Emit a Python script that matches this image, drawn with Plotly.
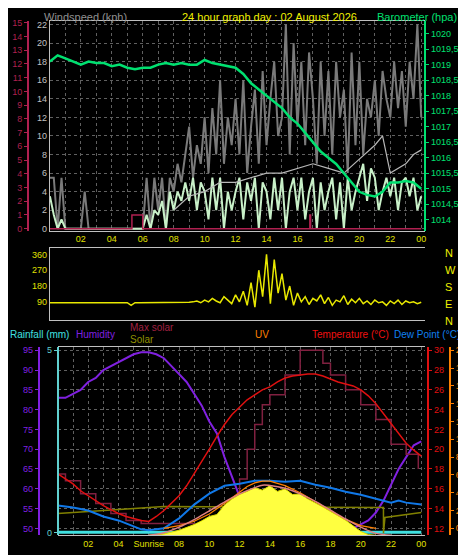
import plotly.graph_objects as go

# ---------------- data ----------------
HOURS_HALF = [i * 0.5 for i in range(49)]
HOURS_Q = [i * 0.25 for i in range(97)]

baro = [1019.1, 1019.3, 1019.2, 1019.1, 1019.0, 1019.1, 1019.05, 1019.05, 1018.95, 1019.0,
        1018.9, 1018.85, 1018.9, 1018.9, 1019.0, 1019.05, 1019.0, 1019.05, 1019.0, 1019.0,
        1019.15, 1019.05, 1019.0, 1018.95, 1018.9, 1018.7, 1018.4, 1018.2, 1018.0, 1017.8,
        1017.6, 1017.3, 1017.1, 1016.8, 1016.5, 1016.2, 1016.0, 1015.8, 1015.5, 1015.2,
        1014.9, 1014.8, 1014.75, 1014.9, 1015.2, 1015.2, 1015.25, 1015.2, 1015.0]

gust = [5.5, 5.5, 0, 5.5, 0, 0, 0, 0, 0, 4, 0, 0, 0, 0, 0, 0, 0, 0, 0, 0, 0, 0, 0, 0,
        0, 5.5, 0, 5.5, 2, 5.5, 0, 5.5, 4, 7, 5, 8, 11, 5.5, 9, 7, 12, 6, 13, 8, 16, 7, 12, 9,
        14, 8, 16, 6, 11, 15, 7, 17, 9, 14, 18, 10, 12, 22, 8, 20, 11, 18, 9, 19, 14, 7, 18, 10,
        17, 8, 18, 12, 15, 6, 19, 9, 18, 8, 14, 12, 16, 10, 17, 14, 12, 18, 13, 17, 11, 18, 14, 22, 12]
avg = [3.5, 1.5, 0, 1, 0, 0, 0, 0, 0, 0, 0, 0, 0, 0, 0, 0, 0, 0, 0, 0, 0, 0, 0, 0,
       0, 1.5, 0, 2, 1.5, 3, 0, 4, 2, 4, 3, 5, 3, 5.5, 2, 5, 4, 1, 5.5, 2, 5.5, 0, 4, 2,
       4, 5.5, 1, 5, 3, 5.5, 0, 5, 4, 1, 5.5, 2, 5.5, 0, 4, 5.5, 2, 5.5, 1, 4, 5.5, 0, 5, 2,
       4, 5.5, 1, 5, 0, 5.5, 2, 4, 5.5, 7, 3, 6.5, 5.5, 2, 4, 5.5, 3.5, 5.5, 2, 5, 5.5, 3.5, 5.5, 2, 3.5]
smooth_t = [8, 9, 10, 11, 12, 13, 14, 15, 16, 17, 18, 19, 20, 21, 21.5, 22, 23, 23.5, 24]
smooth = [2, 3.5, 4, 5, 5, 5.5, 6, 6, 6.5, 7, 6.5, 6, 7.5, 9, 10, 6, 7, 8, 8.5]

rain_t = [0, 5.3, 5.3, 6.0, 6.0, 16.8, 16.8, 16.85, 16.85, 24]
rain = [0, 0, 1, 1, 0, 0, 1, 1, 0, 0]

wdir = [85, 85, 85, 85, 85, 85, 85, 85, 85, 85, 85, 85, 85, 85, 85, 85, 85, 85, 85, 85,
        85, 70, 85, 85, 85, 85, 85, 85, 85, 85, 85, 85, 85, 85, 85, 85, 88, 90, 95, 85,
        100, 90, 110, 95, 85, 120, 100, 80, 130, 90, 150, 70, 200, 60, 270, 120, 360, 80, 330, 140,
        250, 100, 180, 70, 140, 90, 120, 75, 110, 95, 130, 80, 115, 70, 100, 90, 125, 75, 105, 85,
        110, 80, 95, 75, 100, 85, 90, 70, 95, 80, 100, 75, 95, 85, 90, 80, 88]

hum = [83, 83, 84, 85, 87, 88, 90, 91, 92, 93, 94, 94.5, 94.5, 94, 93, 91, 89, 87, 84, 81,
       77, 74, 68, 63, 58, 57, 56, 55, 52, 52, 52, 52, 52, 52, 51, 51, 51, 51, 50.5, 50,
       51, 52, 54, 57, 61, 65, 68, 71, 72]
temp = [17.5, 17, 16.5, 15.8, 15.3, 14.8, 14.3, 13.9, 13.5, 13.2, 13.0, 12.8, 12.7, 13.2, 13.8,
        14.5, 15.3, 16.3, 17.5, 18.8, 20, 21.3, 22.5, 23.5, 24.3, 25, 25.5, 26, 26.3, 26.8, 27.2,
        27.4, 27.5, 27.6, 27.6, 27.4, 27.1, 26.8, 26.6, 26.4, 26, 25.4, 24.6, 23.6, 22.5, 21.5,
        20.6, 19.9, 19.3]
dew_t = [0, 1, 2, 3, 4, 5, 5.5, 6, 7, 8, 9, 10, 11, 12, 13, 14, 15, 16, 17, 18, 19, 20, 21, 22, 22.5, 23, 24]
dew = [14.3, 14.1, 13.8, 13.2, 12.8, 12.2, 11.9, 11.8, 12, 13, 14.4, 15.5, 16.3, 16.5, 16.8, 16.8,
       16.7, 16.8, 16.4, 16.1, 15.7, 15.4, 15.0, 14.6, 14.8, 14.6, 14.4]
maxsol_t = [0, 0.5, 1.5, 2.5, 3.5, 4.5, 5.5, 9, 11.5, 12, 12.5, 13, 13.5, 14, 15, 16, 17, 17.5, 18, 19, 20, 21, 22, 23, 23.8]
maxsol = [17.5, 16.8, 15.5, 14.5, 13.5, 12.8, 12.5, 11.7, 13, 17, 20, 22.5, 24.5, 25.5, 27.5, 30, 30,
          28.7, 27.5, 26, 24.5, 23, 20.5, 19.5, 18]
olive_t = [0, 7, 21.5, 21.5, 21.6, 24]
olive = [13.5, 14.2, 14.1, 11.5, 13.1, 13.6]
bell_t = [6, 7, 8, 9, 10, 11, 12, 13, 13.5, 14, 15, 16, 17, 18, 19, 20, 21, 22]
bell = [0, 40, 130, 250, 390, 530, 660, 760, 800, 795, 750, 660, 540, 400, 260, 130, 30, 0]
sol_t = [6, 7, 8, 9, 9.5, 10, 10.5, 11, 11.5, 12, 12.5, 13, 13.5, 14, 14.5, 15, 15.5, 16, 16.5,
         17, 17.5, 18, 18.5, 19, 19.5, 20, 20.5, 21]
sol = [0, 20, 80, 170, 230, 300, 330, 480, 580, 650, 700, 760, 720, 790, 700, 740, 650, 660, 580,
       520, 450, 380, 310, 240, 150, 60, 10, 0]
uv_t = [7, 8, 9, 10, 11, 12, 12.5, 13, 13.5, 14, 15, 16, 17, 18, 19, 20, 21]
uv = [0, 0.3, 0.8, 1.6, 2.8, 4, 4.7, 5.1, 5.3, 5.3, 4.8, 4, 3, 2, 1, 0.3, 0]

xticks = list(range(0, 25))
xtext = ['' if h % 2 else ('00' if h in (0, 24) else f'{h:02d}') for h in xticks]
xtext[0] = ''
xtext_b = list(xtext)
xtext_b[6] = 'Sunrise'

baro_ticks = [1014 + 0.5 * i for i in range(13)]
baro_text = [(f'{v:.1f}'.replace('.', ',').replace(',0', '')) for v in baro_ticks]

# ---------------- figure ----------------
F = dict(family='Liberation Sans, Arial', size=9)
fig = go.Figure()

fig.add_trace(go.Scatter(x=HOURS_Q, y=gust, mode='lines', line=dict(color='#7a7a7a', width=2), xaxis='x', yaxis='y'))
fig.add_trace(go.Scatter(x=HOURS_Q, y=avg, mode='lines', line=dict(color='#c8f0c8', width=2), xaxis='x', yaxis='y'))
fig.add_trace(go.Scatter(x=smooth_t, y=smooth, mode='lines', line=dict(color='#b8b8b8', width=1.2), xaxis='x', yaxis='y'))
fig.add_trace(go.Scatter(x=rain_t, y=rain, mode='lines', line=dict(color='#b02050', width=1.5), xaxis='x', yaxis='y3'))
fig.add_trace(go.Scatter(x=HOURS_HALF, y=baro, mode='lines', line=dict(color='#00e070', width=2.5), xaxis='x', yaxis='y2'))
fig.add_trace(go.Scatter(x=HOURS_Q, y=wdir, mode='lines', line=dict(color='#e8e800', width=1.5), xaxis='x2', yaxis='y4'))
fig.add_trace(go.Scatter(x=sol_t, y=sol, mode='lines', fill='tozeroy', fillcolor='#ffff40', line=dict(color='#e0e000', width=1), xaxis='x3', yaxis='y9'))
fig.add_trace(go.Scatter(x=bell_t, y=bell, mode='lines', line=dict(color='#e08080', width=1.5, shape='spline'), xaxis='x3', yaxis='y9'))
fig.add_trace(go.Scatter(x=uv_t, y=uv, mode='lines', line=dict(color='#ff8000', width=1.2), xaxis='x3', yaxis='y8'))
fig.add_trace(go.Scatter(x=olive_t, y=olive, mode='lines', line=dict(color='#808000', width=1.5), xaxis='x3', yaxis='y7'))
fig.add_trace(go.Scatter(x=maxsol_t, y=maxsol, mode='lines', line=dict(color='#802040', width=1.5, shape='hv'), xaxis='x3', yaxis='y7'))
fig.add_trace(go.Scatter(x=dew_t, y=dew, mode='lines', line=dict(color='#1078e8', width=2), xaxis='x3', yaxis='y7'))
fig.add_trace(go.Scatter(x=HOURS_HALF, y=hum, mode='lines', line=dict(color='#8020e0', width=2), xaxis='x3', yaxis='y5'))
fig.add_trace(go.Scatter(x=HOURS_HALF, y=temp, mode='lines', line=dict(color='#e01010', width=1.5), xaxis='x3', yaxis='y7'))
fig.add_trace(go.Scatter(x=[0, 24], y=[0, 0], mode='lines', line=dict(color='#40e0e0', width=3), xaxis='x3', yaxis='y6'))

GRID = dict(showgrid=True, gridcolor='#606060', griddash='dot', gridwidth=1)
def xax(domain, anchor, text, show=True, grid=True):
    d = dict(domain=domain, anchor=anchor, range=[0, 24.25], tickvals=xticks, ticktext=text,
             tickfont=dict(F, color='#e0e000'), showticklabels=show, zeroline=False,
             showline=True, linecolor='#c0c0c0', mirror=True, ticks='', ticklen=0)
    if grid:
        d.update(GRID)
    else:
        d['showgrid'] = False
    return d

def yfree(color, pos, rng, tickvals, ticktext=None, side='left', overlaying=None):
    d = dict(anchor='free', position=pos, range=rng, tickvals=tickvals, side=side,
             tickfont=dict(F, color=color), showline=True, linecolor=color, linewidth=2,
             ticks='outside', ticklen=3, tickcolor=color, showgrid=False, zeroline=False)
    if ticktext is not None:
        d['ticktext'] = ticktext
    if overlaying:
        d['overlaying'] = overlaying
    return d

top_dom = [1 - 222 / 555, 1 - 10 / 555]
mid_dom = [1 - 312 / 555, 1 - 240 / 555]
bot_dom = [1 - 530 / 555, 1 - 340 / 555]
xl, xr, xlb = 42 / 466, 418 / 466, 50 / 466

fig.update_layout(
    width=466, height=555, margin=dict(l=0, r=0, t=0, b=0),
    paper_bgcolor='black', plot_bgcolor='black', showlegend=False, font=F,
    xaxis=xax([xl, xr], 'y', xtext),
    xaxis2=xax([xl, xr], 'y4', xtext, show=False, grid=False),
    xaxis3=xax([xlb, xr], 'y5', xtext_b),
    yaxis=dict(domain=top_dom, anchor='x', range=[-0.2, 22.4], tickvals=list(range(0, 23, 2)),
               tickfont=dict(F, color='#c0c0c0'), zeroline=False, ticks='', **GRID,
               showline=True, linecolor='#c0c0c0'),
    yaxis2=yfree('#00e070', xr, [1013.65, 1020.41], baro_ticks, baro_text, side='right', overlaying='y'),
    yaxis3=yfree('#b02050', 20 / 466, [-0.14, 15.14], list(range(16)), overlaying='y'),
    yaxis4=dict(domain=mid_dom, anchor='x2', range=[-11, 394], tickvals=[90, 180, 270, 360],
                tickfont=dict(F, color='#e0e000'), showgrid=False, zeroline=False, ticks='',
                showline=True, linecolor='#c0c0c0'),
    yaxis5=dict(domain=bot_dom, anchor='free', position=31 / 466, range=[48.25, 95.75],
                tickvals=list(range(50, 96, 5)), tickfont=dict(F, color='#8020e0'),
                showline=True, linecolor='#8020e0', linewidth=2, ticks='outside', ticklen=3,
                tickcolor='#8020e0', zeroline=False, **GRID),
    yaxis6=yfree('#60d0d0', xlb, [-0.08, 5.08], [0, 5], overlaying='y5'),
    yaxis7=yfree('#e01010', 421 / 466, [11.3, 30.3], list(range(12, 31, 2)), side='right', overlaying='y5'),
    yaxis8=yfree('#ff8000', 443 / 466, [-0.78, 20.33], list(range(0, 21, 2)), side='right', overlaying='y5'),
    yaxis9=dict(overlaying='y5', range=[0, 3000], visible=False),
)

def ann(x, y, text, color, size=11, anchor='left'):
    fig.add_annotation(x=x / 466, y=1 - y / 555, xref='paper', yref='paper', text=text, showarrow=False,
                       font=dict(family='Liberation Sans, Arial', size=size, color=color),
                       xanchor=anchor, yanchor='middle')

ann(34, 6, 'Windspeed (kph)', '#909090')
ann(172, 6, '24 hour graph day : 02 August 2026', '#f0f000')
ann(452, 6, 'Barometer (hpa)', '#00e070', anchor='right')
for lbl, yy in zip(['N', 'W', 'S', 'E', 'N'], [245, 262, 279, 296, 313]):
    ann(436, yy, lbl, '#f0f000', size=11)
ann(0, 327, 'Rainfall (mm)', '#40e0e0', size=10)
ann(66, 327, 'Humidity', '#8020e0', size=10)
ann(120, 320, 'Max solar', '#a02040', size=10)
ann(120, 332, 'Solar', '#909000', size=10)
ann(246, 327, 'UV', '#ff8000', size=10)
ann(303, 327, 'Temperature (°C)', '#f01010', size=10)
ann(455, 327, 'Dew Point (°C)', '#1080f0', size=10, anchor='right')

fig.write_html('out.html')
